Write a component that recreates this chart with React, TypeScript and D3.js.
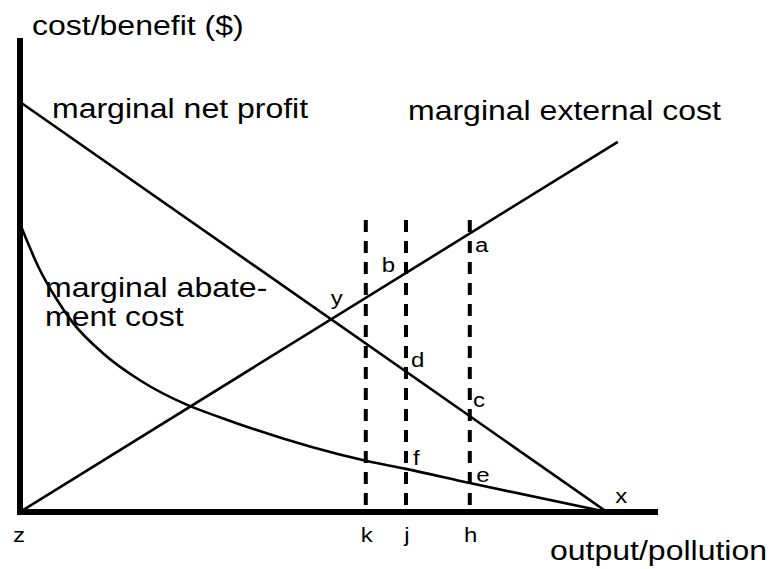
import React from "react";
import * as d3 from "d3";

const W = 770;
const H = 569;

// data units: x = output/pollution (0..100), y = cost/benefit (0..100)
const netProfit = [
  { x: 0, y: 86.5 },
  { x: 92, y: 0 },
];
const externalCost = [
  { x: 0, y: 0 },
  { x: 93.7, y: 78.1 },
];
const abatementCost = [
  { x: 0, y: 60.8 },
  { x: 3.1, y: 51.1 },
  { x: 5.5, y: 45.4 },
  { x: 8.3, y: 39.9 },
  { x: 13.0, y: 33.5 },
  { x: 18.8, y: 27.8 },
  { x: 26.2, y: 22.6 },
  { x: 31.3, y: 20.0 },
  { x: 54.2, y: 10.8 },
  { x: 60.5, y: 9.1 },
  { x: 70.5, y: 6.1 },
  { x: 92, y: 0 },
];
const levels = [
  { name: "k", x: 54.2 },
  { name: "j", x: 60.5 },
  { name: "h", x: 70.5 },
];
const levelTop = 61.6;
const points = [
  { name: "a", x: 71.3, y: 54.9 },
  { name: "b", x: 56.7, y: 50.6 },
  { name: "c", x: 71.0, y: 22.2 },
  { name: "d", x: 61.3, y: 30.6 },
  { name: "e", x: 71.5, y: 6.3 },
  { name: "f", x: 61.6, y: 9.9 },
  { name: "x", x: 93.3, y: 1.9 },
  { name: "y", x: 48.7, y: 43.7 },
  { name: "z", x: -1.1, y: -6.3 },
];

const FONT = "'Liberation Sans', Arial, Helvetica, sans-serif";
const SY = 0.84; // the type in the picture is a little squashed vertically

function Label({ x, y, size, children, anchor = "start" }: any) {
  return (
    <text
      transform={`translate(${x},${y}) scale(1,${SY})`}
      fontFamily={FONT}
      fontSize={size}
      textAnchor={anchor}
      fill="#000"
    >
      {children}
    </text>
  );
}

export default function App() {
  const x = d3.scaleLinear().domain([0, 100]).range([20, 658]);
  const y = d3.scaleLinear().domain([0, 100]).range([512, 38]);

  const straight = d3
    .line<{ x: number; y: number }>()
    .x((d) => x(d.x))
    .y((d) => y(d.y));
  const smooth = d3
    .line<{ x: number; y: number }>()
    .x((d) => x(d.x))
    .y((d) => y(d.y))
    .curve(d3.curveMonotoneX);

  return (
    <svg
      width={W}
      height={H}
      style={{ position: "absolute", left: 0, top: 0, background: "#fff" }}
    >
      {/* curves */}
      <path d={straight(netProfit) || ""} fill="none" stroke="#000" strokeWidth={2.6} />
      <path d={straight(externalCost) || ""} fill="none" stroke="#000" strokeWidth={2.6} />
      <path d={smooth(abatementCost) || ""} fill="none" stroke="#000" strokeWidth={2.6} />

      {/* dashed output levels */}
      {levels.map((l) => (
        <line
          key={l.name}
          x1={x(l.x)}
          x2={x(l.x)}
          y1={y(levelTop)}
          y2={y(0)}
          stroke="#000"
          strokeWidth={4}
          strokeDasharray="12,9"
        />
      ))}

      {/* axes */}
      <line x1={x(0)} x2={x(0)} y1={y(100)} y2={y(0) + 3} stroke="#000" strokeWidth={6} />
      <line x1={x(0) - 3} x2={x(100)} y1={y(0)} y2={y(0)} stroke="#000" strokeWidth={6} />

      {/* level letters under the axis */}
      {levels.map((l) => (
        <Label key={l.name} x={x(l.x) + 1} y={542} size={24} anchor="middle">
          {l.name}
        </Label>
      ))}

      {/* point letters */}
      {points.map((p) => (
        <Label key={p.name} x={x(p.x)} y={y(p.y)} size={24}>
          {p.name}
        </Label>
      ))}

      {/* titles */}
      <Label x={32} y={35} size={32}>cost/benefit ($)</Label>
      <Label x={550} y={560} size={32}>output/pollution</Label>
      <Label x={52} y={118} size={32}>marginal net profit</Label>
      <Label x={408} y={120} size={32}>marginal external cost</Label>
      <Label x={45} y={297} size={32}>marginal abate-</Label>
      <Label x={45} y={326} size={32}>ment cost</Label>
    </svg>
  );
}
